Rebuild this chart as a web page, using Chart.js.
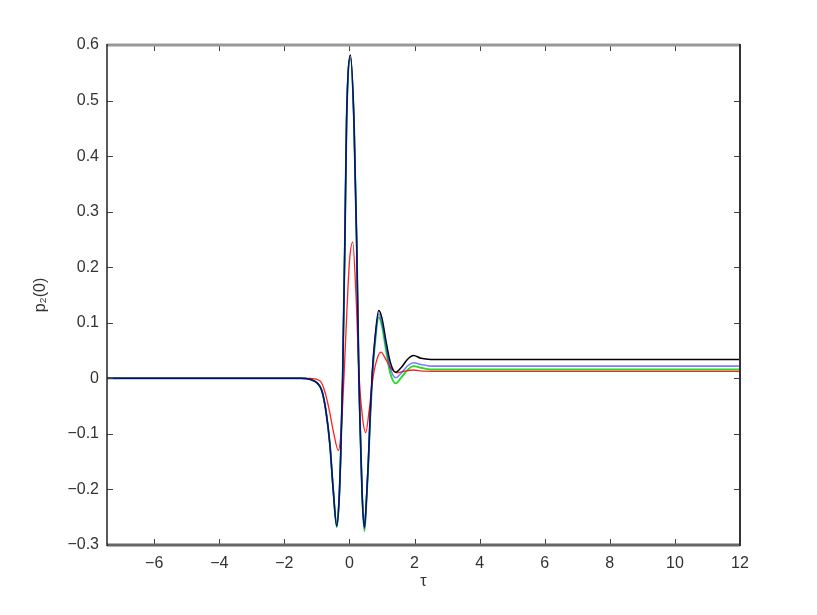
<!DOCTYPE html>
<html>
<head>
<meta charset="utf-8">
<script src="https://cdn.jsdelivr.net/npm/chart.js@4.4.1/dist/chart.umd.min.js"></script>
<style>
  html, body { margin: 0; padding: 0; background: #fff; }
  #plot { display: block; }
</style>
</head>
<body>
<canvas id="plot" width="817" height="615"></canvas>
<script>
// axis ticks
const xTicks = [-6, -4, -2, 0, 2, 4, 6, 8, 10, 12];
const yTicks = [-0.3, -0.2, -0.1, 0, 0.1, 0.2, 0.3, 0.4, 0.5, 0.6];

// tau grid shared by the black, blue and green curves
const tauMain = [-7.45, -1.5, -1.2, -1.0, -0.85, -0.72, -0.6, -0.5, -0.39, -0.32, -0.27, -0.21,
  -0.14, -0.09, 0.03, 0.14, 0.22, 0.29, 0.34, 0.39, 0.46, 0.52, 0.58, 0.64, 0.7, 0.78, 0.9,
  1.0, 1.12, 1.25, 1.42, 1.6, 1.78, 1.97, 2.2, 2.5, 3.0, 12];

const blackVals = [0, 0, -0.002, -0.008, -0.022, -0.06, -0.12, -0.2, -0.266, -0.22, -0.14, 0,
  0.25, 0.46, 0.582, 0.46, 0.25, 0, -0.11, -0.21, -0.268, -0.22, -0.15, -0.06, 0.01, 0.07, 0.122,
  0.108, 0.068, 0.03, 0.011, 0.02, 0.034, 0.041, 0.036, 0.034, 0.034, 0.034];

const blueVals = [0, 0, -0.002, -0.008, -0.022, -0.06, -0.12, -0.2, -0.266, -0.22, -0.14, 0,
  0.25, 0.46, 0.578, 0.46, 0.25, 0, -0.11, -0.21, -0.27, -0.22, -0.15, -0.065, 0.005, 0.065, 0.116,
  0.1, 0.06, 0.02, 0.001, 0.01, 0.022, 0.028, 0.025, 0.022, 0.022, 0.022];

const greenVals = [0, 0, -0.002, -0.008, -0.022, -0.06, -0.12, -0.2, -0.268, -0.22, -0.14, 0,
  0.25, 0.46, 0.575, 0.46, 0.25, 0, -0.11, -0.21, -0.275, -0.225, -0.155, -0.07, 0, 0.06, 0.11,
  0.094, 0.052, 0.01, -0.009, 0.002, 0.015, 0.022, 0.019, 0.016, 0.016, 0.016];

// red curve has its own grid
const tauRed = [-7.45, -1.2, -0.9, -0.75, -0.6, -0.48, -0.34, -0.25, -0.17, -0.08, 0.0, 0.1,
  0.2, 0.3, 0.4, 0.5, 0.6, 0.72, 0.85, 0.97, 1.1, 1.25, 1.45, 1.7, 1.95, 2.3, 3, 12];

const redVals = [0, 0, -0.005, -0.025, -0.063, -0.1, -0.13, -0.09, 0, 0.12, 0.21, 0.245,
  0.15, 0, -0.07, -0.098, -0.06, 0, 0.035, 0.047, 0.036, 0.02, 0.01, 0.013, 0.015, 0.013, 0.0126, 0.0126];

function pts(xs, ys) {
  return xs.map((x, i) => ({ x: x, y: ys[i] }));
}

function fmt(v) {
  let s = v === 0 ? '0' : String(v);
  return s.replace('-', '\u2212');
}

const FONT = { family: 'Liberation Sans, Arial, sans-serif', size: 16 };

// box and inward tick marks, like the original figure
const frame = {
  id: 'frame',
  afterDatasetsDraw(chart) {
    const { ctx, chartArea: a, scales } = chart;
    ctx.save();
    ctx.lineCap = 'butt';
    ctx.strokeStyle = '#444';
    ctx.lineWidth = 1;
    xTicks.forEach(v => {
      const px = Math.round(scales.x.getPixelForValue(v)) + 0.5;
      ctx.beginPath();
      ctx.moveTo(px, a.bottom); ctx.lineTo(px, a.bottom - 6);
      ctx.moveTo(px, a.top); ctx.lineTo(px, a.top + 6);
      ctx.stroke();
    });
    yTicks.forEach(v => {
      const py = Math.round(scales.y.getPixelForValue(v)) + 0.5;
      ctx.beginPath();
      ctx.moveTo(a.left, py); ctx.lineTo(a.left + 6, py);
      ctx.moveTo(a.right, py); ctx.lineTo(a.right - 6, py);
      ctx.stroke();
    });
    // top and bottom (grey, thick)
    ctx.strokeStyle = '#999';
    ctx.lineWidth = 3;
    ctx.beginPath(); ctx.moveTo(a.left, a.top); ctx.lineTo(a.right, a.top); ctx.stroke();
    ctx.strokeStyle = '#666';
    ctx.beginPath(); ctx.moveTo(a.left, a.bottom); ctx.lineTo(a.right, a.bottom); ctx.stroke();
    // left and right
    ctx.strokeStyle = '#222';
    ctx.lineWidth = 1.5;
    ctx.beginPath(); ctx.moveTo(a.left, a.top - 1); ctx.lineTo(a.left, a.bottom + 1); ctx.stroke();
    ctx.lineWidth = 2;
    ctx.strokeStyle = '#333';
    ctx.beginPath(); ctx.moveTo(a.right, a.top - 1); ctx.lineTo(a.right, a.bottom + 1); ctx.stroke();
    ctx.restore();
  }
};

const lineStyle = {
  borderWidth: 1.3,
  pointRadius: 0,
  fill: false,
  cubicInterpolationMode: 'monotone'
};

// first dataset is painted last (on top)
new Chart(document.getElementById('plot'), {
  type: 'line',
  data: {
    datasets: [
      { ...lineStyle, label: 'blue', data: pts(tauMain, blueVals), borderColor: 'rgba(20,20,255,0.55)', borderWidth: 1.6 },
      { ...lineStyle, label: 'black', data: pts(tauMain, blackVals), borderColor: '#000000', borderWidth: 1.5 },
      { ...lineStyle, label: 'red', data: pts(tauRed, redVals), borderColor: '#ff2020' },
      { ...lineStyle, label: 'green', data: pts(tauMain, greenVals), borderColor: '#22dd22', borderWidth: 1.9 }
    ]
  },
  options: {
    responsive: false,
    animation: false,
    clip: false,
    layout: { padding: { left: 0, right: 77, top: 45, bottom: 0 } },
    plugins: { legend: { display: false }, tooltip: { enabled: false } },
    scales: {
      x: {
        type: 'linear',
        min: -7.45,
        max: 12,
        afterBuildTicks: s => { s.ticks = xTicks.map(v => ({ value: v })); },
        afterFit: s => { s.height = 70; },
        grid: { display: false, drawTicks: false },
        border: { display: false },
        ticks: { color: '#333', font: FONT, padding: 9, maxRotation: 0, callback: v => fmt(v) },
        title: { display: true, text: '\u03c4', color: '#333', font: FONT, padding: { top: 0, bottom: 24 } }
      },
      y: {
        type: 'linear',
        min: -0.3,
        max: 0.6,
        afterBuildTicks: s => { s.ticks = yTicks.map(v => ({ value: v })); },
        afterFit: s => { s.width = 107; },
        grid: { display: false, drawTicks: false },
        border: { display: false },
        ticks: { color: '#333', font: FONT, padding: 8, callback: v => fmt(v) },
        title: { display: true, text: 'p\u2082(0)', color: '#333', font: FONT, padding: { top: 31, bottom: 0 } }
      }
    }
  },
  plugins: [frame]
});
</script>
</body>
</html>
